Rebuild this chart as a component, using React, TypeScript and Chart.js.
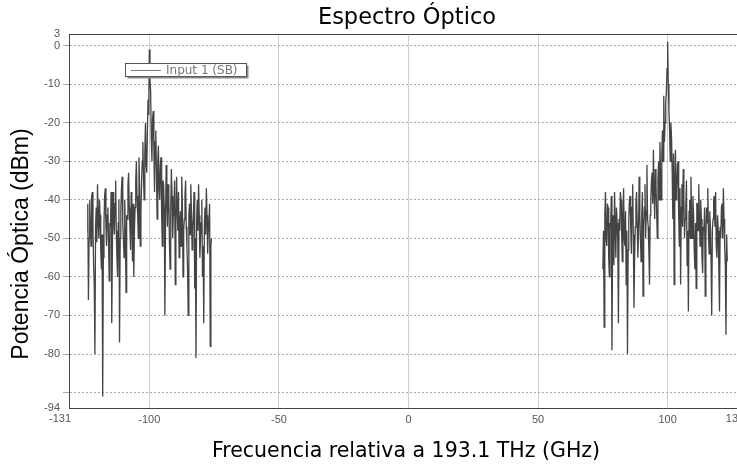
import React, { useEffect, useRef } from "react";
import { Chart, registerables } from "chart.js";

Chart.register(...registerables);

// Optical spectrum of the two sidebands (GHz relative to 193.1 THz, dBm)
const lowerBandFreq = [
  -124, -123.75, -123.5, -123.25, -123, -122.75, -122.5, -122.25,
  -122, -121.75, -121.5, -121.25, -121, -120.75, -120.5, -120.25,
  -120, -119.75, -119.5, -119.25, -119, -118.75, -118.5, -118.25,
  -118, -117.75, -117.5, -117.25, -117, -116.75, -116.5, -116.25,
  -116, -115.75, -115.5, -115.25, -115, -114.75, -114.5, -114.25,
  -114, -113.75, -113.5, -113.25, -113, -112.75, -112.5, -112.25,
  -112, -111.75, -111.5, -111.25, -111, -110.75, -110.5, -110.25,
  -110, -109.75, -109.5, -109.25, -109, -108.75, -108.5, -108.25,
  -108, -107.75, -107.5, -107.25, -107, -106.75, -106.5, -106.25,
  -106, -105.75, -105.5, -105.25, -105, -104.75, -104.5, -104.25,
  -104, -103.75, -103.5, -103.25, -103, -102.75, -102.5, -102.25,
  -102, -101.75, -101.5, -101.25, -101, -100.75, -100.5, -100.25,
  -100, -99.75, -99.5, -99.25, -99, -98.75, -98.5, -98.25,
  -98, -97.75, -97.5, -97.25, -97, -96.75, -96.5, -96.25,
  -96, -95.75, -95.5, -95.25, -95, -94.75, -94.5, -94.25,
  -94, -93.75, -93.5, -93.25, -93, -92.75, -92.5, -92.25,
  -92, -91.75, -91.5, -91.25, -91, -90.75, -90.5, -90.25,
  -90, -89.75, -89.5, -89.25, -89, -88.75, -88.5, -88.25,
  -88, -87.75, -87.5, -87.25, -87, -86.75, -86.5, -86.25,
  -86, -85.75, -85.5, -85.25, -85, -84.75, -84.5, -84.25,
  -84, -83.75, -83.5, -83.25, -83, -82.75, -82.5, -82.25,
  -82, -81.75, -81.5, -81.25, -81, -80.75, -80.5, -80.25,
  -80, -79.75, -79.5, -79.25, -79, -78.75, -78.5, -78.25,
  -78, -77.75, -77.5, -77.25, -77, -76.75, -76.5, -76.25,
  -76,
];
const lowerBandPower = [
  -48, -41, -66, -50, -40, -46, -52, -39,
  -38, -48, -57, -62, -80, -47, -42, -51,
  -36, -45, -50, -40, -44, -53, -58, -49,
  -91, -55, -46, -39, -37, -47, -52, -44,
  -42, -50, -61, -46, -47, -38, -72, -52,
  -38, -45, -49, -41, -35, -48, -55, -60,
  -46, -40, -77, -50, -43, -37, -34, -46,
  -50, -55, -40, -48, -64, -44, -45, -36,
  -33, -42, -47, -53, -38, -45, -56, -41,
  -60, -48, -42, -35, -30, -39, -44, -50,
  -29, -37, -52, -43, -36, -30, -25, -34,
  -40, -28, -20, -31, -33, -22, -14, -18,
  -1, -9, -12, -24, -30, -19, -17, -27,
  -38, -25, -22, -33, -45, -30, -26, -37,
  -40, -31, -29, -44, -52, -35, -36, -42,
  -70, -45, -31, -40, -47, -36, -38, -51,
  -58, -43, -32, -39, -50, -44, -41, -35,
  -62, -47, -34, -42, -48, -38, -55, -46,
  -43, -52, -34, -41, -60, -48, -45, -39,
  -35, -47, -52, -58, -70, -44, -41, -49,
  -36, -43, -53, -47, -44, -38, -63, -50,
  -81, -45, -40, -48, -36, -44, -55, -50,
  -46, -40, -60, -52, -72, -46, -42, -49,
  -37, -44, -54, -48, -46, -41, -78, -52,
  -50,
];
const upperBandFreq = [
  75, 75.25, 75.5, 75.75, 76, 76.25, 76.5, 76.75,
  77, 77.25, 77.5, 77.75, 78, 78.25, 78.5, 78.75,
  79, 79.25, 79.5, 79.75, 80, 80.25, 80.5, 80.75,
  81, 81.25, 81.5, 81.75, 82, 82.25, 82.5, 82.75,
  83, 83.25, 83.5, 83.75, 84, 84.25, 84.5, 84.75,
  85, 85.25, 85.5, 85.75, 86, 86.25, 86.5, 86.75,
  87, 87.25, 87.5, 87.75, 88, 88.25, 88.5, 88.75,
  89, 89.25, 89.5, 89.75, 90, 90.25, 90.5, 90.75,
  91, 91.25, 91.5, 91.75, 92, 92.25, 92.5, 92.75,
  93, 93.25, 93.5, 93.75, 94, 94.25, 94.5, 94.75,
  95, 95.25, 95.5, 95.75, 96, 96.25, 96.5, 96.75,
  97, 97.25, 97.5, 97.75, 98, 98.25, 98.5, 98.75,
  99, 99.25, 99.5, 99.75, 100, 100.25, 100.5, 100.75,
  101, 101.25, 101.5, 101.75, 102, 102.25, 102.5, 102.75,
  103, 103.25, 103.5, 103.75, 104, 104.25, 104.5, 104.75,
  105, 105.25, 105.5, 105.75, 106, 106.25, 106.5, 106.75,
  107, 107.25, 107.5, 107.75, 108, 108.25, 108.5, 108.75,
  109, 109.25, 109.5, 109.75, 110, 110.25, 110.5, 110.75,
  111, 111.25, 111.5, 111.75, 112, 112.25, 112.5, 112.75,
  113, 113.25, 113.5, 113.75, 114, 114.25, 114.5, 114.75,
  115, 115.25, 115.5, 115.75, 116, 116.25, 116.5, 116.75,
  117, 117.25, 117.5, 117.75, 118, 118.25, 118.5, 118.75,
  119, 119.25, 119.5, 119.75, 120, 120.25, 120.5, 120.75,
  121, 121.25, 121.5, 121.75, 122, 122.25, 122.5, 122.75,
  123,
];
const upperBandPower = [
  -58, -48, -73, -44, -38, -50, -52, -41,
  -42, -55, -60, -46, -47, -39, -79, -52,
  -44, -57, -38, -46, -55, -42, -46, -51,
  -72, -45, -48, -38, -40, -49, -56, -44,
  -37, -50, -52, -43, -62, -48, -80, -53,
  -45, -40, -39, -47, -54, -42, -36, -49,
  -68, -55, -47, -41, -38, -46, -55, -49,
  -34, -44, -50, -56, -44, -38, -65, -47,
  -42, -36, -50, -43, -31, -45, -47, -53,
  -62, -44, -40, -35, -33, -41, -27, -38,
  -45, -32, -36, -43, -50, -35, -30, -40,
  -25, -33, -40, -28, -22, -30, -13, -25,
  -20, -15, -12, -6, 1, -10, -17, -22,
  -30, -20, -24, -33, -45, -28, -62, -35,
  -27, -40, -38, -31, -30, -44, -52, -37,
  -62, -42, -36, -47, -32, -39, -50, -45,
  -42, -35, -57, -48, -69, -43, -40, -50,
  -34, -44, -50, -39, -44, -53, -58, -46,
  -63, -41, -41, -48, -36, -44, -52, -40,
  -45, -55, -59, -47, -48, -42, -65, -50,
  -42, -46, -37, -49, -54, -43, -47, -56,
  -70, -48, -45, -40, -39, -47, -38, -52,
  -55, -44, -48, -58, -69, -47, -50, -42,
  -41, -50, -37, -45, -52, -57, -75, -49,
  -56,
];

const xTicks = [-131, -100, -50, 0, 50, 100, 131];
const yTicks = [3, 0, -10, -20, -30, -40, -50, -60, -70, -80, -90, -94];
const yHiddenLabels = [-90];
const xEdgeLabels = [-131, 131];

const chartTitle = "Espectro Óptico";
const xTitle = "Frecuencia relativa a 193.1 THz (GHz)";
const yTitle = "Potencia Óptica (dBm)";
const seriesName = "Input 1 (SB)";

const decorations = {
  id: "decorations",
  afterDraw(chart: any) {
    const { ctx, chartArea } = chart;
    const xScale = chart.scales.x;
    ctx.save();
    // top frame line
    ctx.strokeStyle = "#444";
    ctx.lineWidth = 1;
    ctx.beginPath();
    ctx.moveTo(chartArea.left, Math.round(chartArea.top) + 0.5);
    ctx.lineTo(chartArea.right, Math.round(chartArea.top) + 0.5);
    ctx.stroke();

    // end-of-range x tick labels, nudged inward
    ctx.fillStyle = "#555";
    ctx.font = '11px "Liberation Sans"';
    ctx.textAlign = "center";
    ctx.textBaseline = "top";
    const leftX = xScale.getPixelForValue(xEdgeLabels[0]) - 9;
    const rightX = Math.min(xScale.getPixelForValue(xEdgeLabels[1]), 735);
    ctx.fillText(String(xEdgeLabels[0]), leftX, chartArea.bottom + 5);
    ctx.fillText(String(xEdgeLabels[1]), rightX, chartArea.bottom + 5);

    // titles
    ctx.fillStyle = "#000";
    ctx.textAlign = "center";
    ctx.textBaseline = "middle";
    ctx.font = '22.5px "DejaVu Sans"';
    ctx.fillText(chartTitle, 407, 18);
    ctx.font = '20.5px "DejaVu Sans"';
    ctx.fillText(xTitle, 406, 452);
    ctx.save();
    ctx.translate(22, 244);
    ctx.rotate(-Math.PI / 2);
    ctx.font = '23px "Liberation Sans"';
    ctx.fillText(yTitle, 0, 0);
    ctx.restore();

    // legend box
    const bx = 125.5, by = 63.5, bw = 121, bh = 13;
    ctx.fillStyle = "#8a8a8a";
    ctx.fillRect(bx + 2, by + 2, bw, bh);
    ctx.fillStyle = "#fff";
    ctx.fillRect(bx, by, bw, bh);
    ctx.strokeStyle = "#555";
    ctx.strokeRect(bx, by, bw, bh);
    ctx.strokeStyle = "#777";
    ctx.beginPath();
    ctx.moveTo(131, 70.5);
    ctx.lineTo(161, 70.5);
    ctx.stroke();
    ctx.fillStyle = "#777";
    ctx.textAlign = "left";
    ctx.font = '12px "DejaVu Sans"';
    ctx.fillText(seriesName, 166, 70.5);
    ctx.restore();
  },
};

export default function App() {
  const canvasRef = useRef<HTMLCanvasElement | null>(null);

  useEffect(() => {
    const canvas = canvasRef.current;
    if (!canvas) return;
    const points: { x: number; y: number | null }[] = [];
    lowerBandFreq.forEach((f, i) => points.push({ x: f, y: lowerBandPower[i] }));
    points.push({ x: 0, y: null });
    upperBandFreq.forEach((f, i) => points.push({ x: f, y: upperBandPower[i] }));

    const chart = new Chart(canvas, {
      type: "line",
      data: {
        datasets: [
          {
            label: seriesName,
            data: points as any,
            borderColor: "#444444",
            borderWidth: 1.3,
            pointRadius: 0,
            tension: 0,
            spanGaps: false,
          },
        ],
      },
      options: {
        animation: false,
        responsive: false,
        maintainAspectRatio: false,
        devicePixelRatio: 1,
        layout: { padding: { top: 34, right: 12, left: 0, bottom: 0 } },
        plugins: {
          legend: { display: false },
          tooltip: { enabled: false },
          title: { display: false },
        },
        scales: {
          x: {
            type: "linear",
            min: -131,
            max: 131,
            afterBuildTicks: (s: any) => {
              s.ticks = xTicks.map((v) => ({ value: v }));
            },
            afterFit: (s: any) => {
              s.height = 57;
            },
            grid: {
              color: (c: any) =>
                c.tick && Math.abs(c.tick.value) === 131 ? "rgba(0,0,0,0)" : "#cfcfcf",
              drawTicks: false,
            },
            border: { display: true, color: "#444", width: 1 },
            ticks: {
              autoSkip: false,
              maxRotation: 0,
              padding: 5,
              color: "#555",
              font: { family: "Liberation Sans", size: 11 },
              callback: (v: any) => (xEdgeLabels.includes(v) ? "" : String(v)),
            },
          },
          y: {
            type: "linear",
            min: -94,
            max: 3,
            afterBuildTicks: (s: any) => {
              s.ticks = yTicks.map((v) => ({ value: v }));
            },
            afterFit: (s: any) => {
              s.width = 69;
            },
            grid: {
              color: (c: any) =>
                c.tick && (c.tick.value === 3 || c.tick.value === -94)
                  ? "rgba(0,0,0,0)"
                  : "#aaaaaa",
              tickLength: 6,
            },
            border: { display: true, color: "#444", width: 1, dash: [2, 2] },
            ticks: {
              autoSkip: false,
              padding: 3,
              color: "#555",
              font: { family: "Liberation Sans", size: 11 },
              callback: (v: any) => (yHiddenLabels.includes(v) ? "" : String(v)),
            },
          },
        },
      },
      plugins: [decorations],
    });
    return () => chart.destroy();
  }, []);

  return (
    <div
      style={{
        position: "fixed",
        left: 0,
        top: 0,
        width: 737,
        height: 465,
        overflow: "hidden",
        background: "#fff",
      }}
    >
      <canvas
        ref={canvasRef}
        width={760}
        height={465}
        style={{ display: "block", width: 760, height: 465 }}
      />
    </div>
  );
}
